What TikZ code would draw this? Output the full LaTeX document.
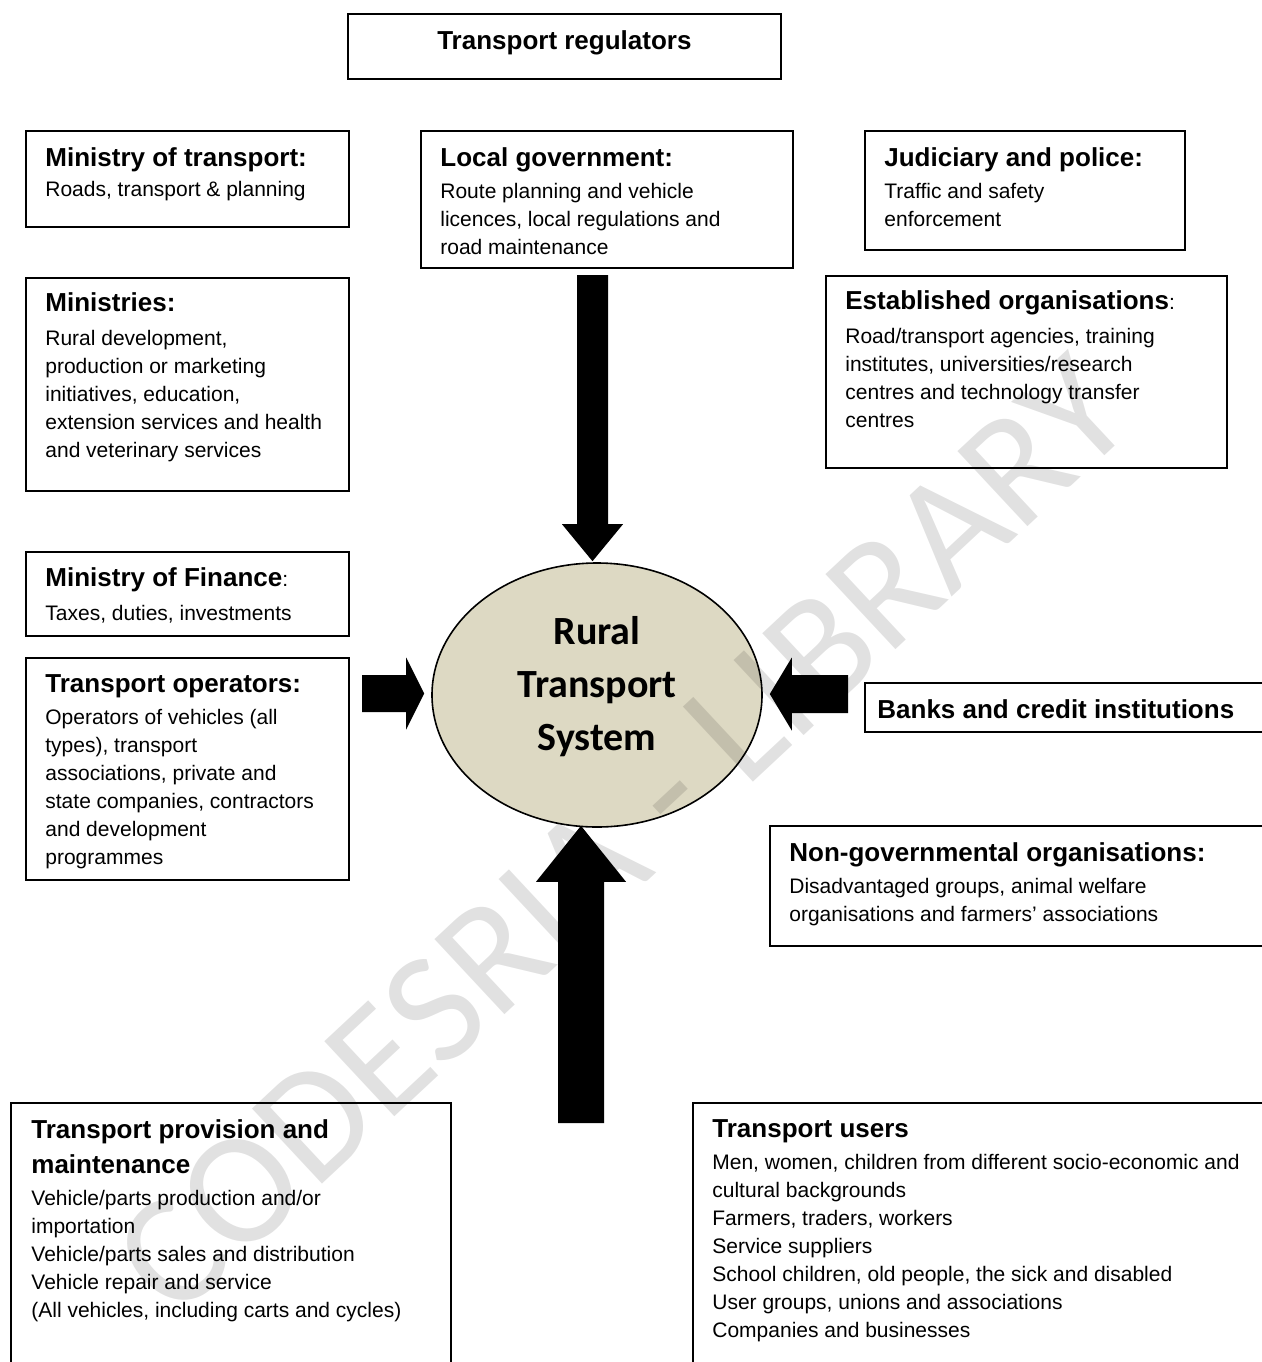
\documentclass[tikz,border=0pt]{standalone}
\usepackage{fontspec}
\setmainfont{Liberation Sans}
\newfontfamily\carlito{Carlito}
\usetikzlibrary{calc, shapes.geometric}
\definecolor{sysfill}{HTML}{DDD9C3}
\definecolor{wmgray}{HTML}{E1E1E1}
\newcommand{\boxhead}[1]{{\fontsize{13}{16}\selectfont\bfseries #1}}
% #1 tail, #2 tip, #3 half shaft, #4 half head, #5 head length
\newcommand{\blockarrow}[5]{%
  \coordinate (hb) at ($(#2)!#5!(#1)$);
  \fill ($(#1)!#3!90:(#2)$) -- ($(hb)!#3!90:(#2)$) -- ($(hb)!#4!90:(#2)$) -- (#2)
    -- ($(hb)!#4!-90:(#2)$) -- ($(hb)!#3!-90:(#2)$) -- ($(#1)!#3!-90:(#2)$) -- cycle;}

\begin{document}
\begin{tikzpicture}[x=0.5pt, y=-0.5pt,
    box/.style={draw, line width=0.9pt, anchor=north west, inner sep=0pt},
    txt/.style={anchor=north west, inner sep=0pt, align=left,
                font=\fontsize{10.5}{14}\selectfont}]
  \clip (0,0) rectangle (1262,1362);

  % regulators
  \node[box, minimum width=216.5pt, minimum height=32.5pt] (reg) at (347,13) {};
  \node[txt, anchor=north] (reg-t) at ($(reg.north)+(0,17)$) {\boxhead{Transport regulators}};

  \node[box, minimum width=161.5pt, minimum height=48pt] (mot) at (25,130) {};
  \node[txt] (mot-t) at ($(mot.north west)+(20,17)$)
    {\boxhead{Ministry of transport:}\\[1pt] Roads, transport \& planning};

  \node[box, minimum width=186pt, minimum height=68.5pt] (lg) at (420,130) {};
  \node[txt] (lg-t) at ($(lg.north west)+(20,17)$)
    {\boxhead{Local government:}\\[2pt] Route planning and vehicle\\
     licences, local regulations and\\ road maintenance};

  \node[box, minimum width=160pt, minimum height=59.5pt] (jp) at (864,130) {};
  \node[txt] (jp-t) at ($(jp.north west)+(20,17)$)
    {\boxhead{Judiciary and police:}\\[2pt] Traffic and safety\\ enforcement};

  \node[box, minimum width=161.5pt, minimum height=106.5pt] (min) at (25,277) {};
  \node[txt] (min-t) at ($(min.north west)+(20,15)$)
    {\boxhead{Ministries:}\\[3pt] Rural development,\\ production or marketing\\
     initiatives, education,\\ extension services and health\\ and veterinary services};

  \node[box, minimum width=200.5pt, minimum height=96pt] (est) at (825,275) {};
  \node[txt] (est-t) at ($(est.north west)+(20,15)$)
    {\boxhead{Established organisations}:\\[3pt] Road/transport agencies, training\\
     institutes, universities/research\\ centres and technology transfer\\ centres};

  \node[box, minimum width=161.5pt, minimum height=42pt] (fin) at (25,551) {};
  \node[txt] (fin-t) at ($(fin.north west)+(20,16)$)
    {\boxhead{Ministry of Finance}:\\[3pt] Taxes, duties, investments};

  \node[box, minimum width=161.5pt, minimum height=111pt] (ops) at (25,657) {};
  \node[txt] (ops-t) at ($(ops.north west)+(20,17)$)
    {\boxhead{Transport operators:}\\[2pt] Operators of vehicles (all\\ types), transport\\
     associations, private and\\ state companies, contractors\\ and development\\ programmes};

  \node[box, minimum width=220pt, minimum height=24.5pt] (bank) at (864,682) {};
  \node[txt] (bank-t) at ($(bank.north west)+(13,17)$) {\boxhead{Banks and credit institutions}};

  \node[box, minimum width=270pt, minimum height=60pt] (ngo) at (769,825) {};
  \node[txt] (ngo-t) at ($(ngo.north west)+(20,17)$)
    {\boxhead{Non-governmental organisations:}\\[2pt] Disadvantaged groups, animal welfare\\
     organisations and farmers’ associations};

  \node[box, minimum width=220pt, minimum height=150pt] (prov) at (10,1102) {};
  \node[txt] (prov-t) at ($(prov.north west)+(21,17)$)
    {\boxhead{Transport provision and}\\[3.5pt] \boxhead{maintenance}\\[2pt]
     Vehicle/parts production and/or\\ importation\\ Vehicle/parts sales and distribution\\
     Vehicle repair and service\\ (All vehicles, including carts and cycles)};

  \node[box, minimum width=320pt, minimum height=150pt] (users) at (692,1102) {};
  \node[txt] (users-t) at ($(users.north west)+(20,17)$)
    {\boxhead{Transport users}\\[2pt] Men, women, children from different socio-economic and\\
     cultural backgrounds\\ Farmers, traders, workers\\ Service suppliers\\
     School children, old people, the sick and disabled\\
     User groups, unions and associations\\ Companies and businesses};

  % the system
  \node[draw, ellipse, fill=sysfill, line width=0.8pt, minimum width=165pt,
        minimum height=132pt, inner sep=0pt] (sys) at (597,695) {};
  \node[align=center, inner sep=0pt, font=\carlito\bfseries\fontsize{20}{26.5}\selectfont]
    (sys-t) at ($(sys.center)+(0,-8)$) {Rural\\Transport\\System};

  % block arrows
  \coordinate (top-tail) at (592.5,275);
  \coordinate (top-tip) at ($(sys.north)+(-4.5,-1)$);
  \coordinate (left-tail) at (362,693.5);
  \coordinate (left-tip) at ($(sys.west)+(-7,-1.5)$);
  \coordinate (right-tail) at (848,694);
  \coordinate (right-tip) at ($(sys.east)+(7,-1)$);
  \coordinate (bot-tail) at (581,1123);
  \coordinate (bot-tip) at ($(sys.south)+(-16,-2)$);
  \blockarrow{top-tail}{top-tip}{7.75pt}{15.25pt}{18.5pt}
  \blockarrow{left-tail}{left-tip}{9.25pt}{18pt}{9pt}
  \blockarrow{right-tail}{right-tip}{9.5pt}{18.25pt}{11pt}
  \blockarrow{bot-tail}{bot-tip}{11.5pt}{22.5pt}{28pt}

  % watermark
  \begin{scope}[blend mode=multiply]
    \node[rotate=43, text=wmgray, inner sep=0pt,
          font=\carlito\fontsize{80}{80}\selectfont] (wm) at (622,835) {CODESRIA - LIBRARY};
  \end{scope}
\end{tikzpicture}
\end{document}
